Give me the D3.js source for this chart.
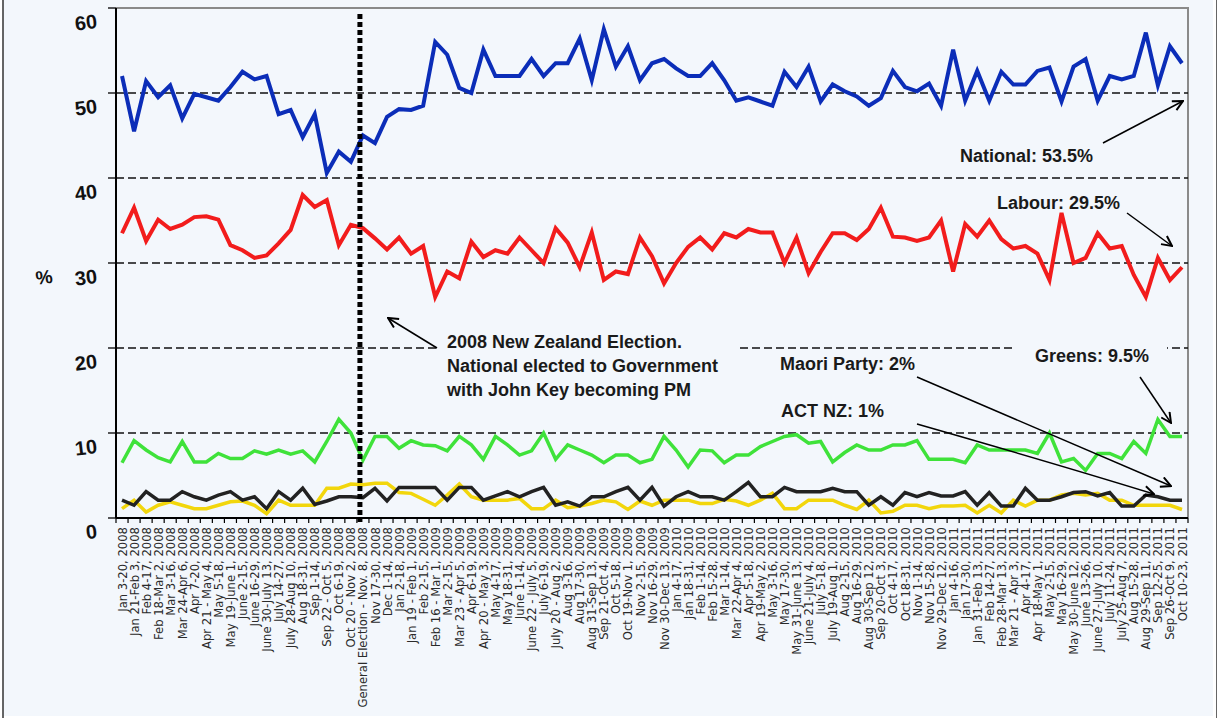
<!DOCTYPE html>
<html>
<head>
<meta charset="utf-8">
<script src="https://cdn.jsdelivr.net/npm/d3@7"></script>
<style>
  html, body { margin: 0; padding: 0; background: #ffffff; }
  svg { display: block; }
</style>
</head>
<body>
<svg id="chart" width="1218" height="720"></svg>
<script>
const categories = [
  "Jan 3-20, 2008","Jan 21-Feb 3, 2008","Feb 4-17, 2008","Feb 18-Mar 2, 2008","Mar 3-16, 2008",
  "Mar 24-Apr 6, 2008","Apr 7-20, 2008","Apr 21 - May 4, 2008","May 5-18, 2008","May 19-June 1, 2008",
  "June 2-15, 2008","June 16-29, 2008","June 30-July 13, 2008","July 14-27, 2008","July 28-Aug 10, 2008",
  "Aug 18-31, 2008","Sep 1-14, 2008","Sep 22 - Oct 5, 2008","Oct 6-19, 2008","Oct 20 - Nov 2, 2008",
  "General Election - Nov. 8, 2008","Nov 17-30, 2008","Dec 1-14, 2008","Jan 2-18, 2009","Jan 19 - Feb 1, 2009",
  "Feb 2-15, 2009","Feb 16 - Mar 1, 2009","Mar 2-15, 2009","Mar 23 - Apr 5, 2009","Apr 6-19, 2009",
  "Apr 20 - May 3, 2009","May 4-17, 2009","May 18-31, 2009","June 1-14, 2009","June 22 - July 5, 2009",
  "July 6-19, 2009","July 20 - Aug 2, 2009","Aug 3-16, 2009","Aug 17-30, 2009","Aug 31-Sep 13, 2009",
  "Sep 21-Oct 4, 2009","Oct 5-18, 2009","Oct 19-Nov 1, 2009","Nov 2-15, 2009","Nov 16-29, 2009",
  "Nov 30-Dec 13, 2009","Jan 4-17, 2010","Jan 18-31, 2010","Feb 1-14, 2010","Feb 15-28, 2010",
  "Mar 1-14, 2010","Mar 22-Apr 4, 2010","Apr 5-18, 2010","Apr 19-May 2, 2010","May 3-16, 2010",
  "May 17-30, 2010","May 31-June 13, 2010","June 21-July 4, 2010","July 5-18, 2010","July 19-Aug 1, 2010",
  "Aug 2-15, 2010","Aug 16-29, 2010","Aug 30-Sep 12, 2010","Sep 20-Oct 3, 2010","Oct 4-17, 2010",
  "Oct 18-31, 2010","Nov 1-14, 2010","Nov 15-28, 2010","Nov 29-Dec 12, 2010","Jan 4-16, 2011",
  "Jan 17-30, 2011","Jan 31-Feb 13, 2011","Feb 14-27, 2011","Feb 28-Mar 13, 2011","Mar 21 - Apr 3, 2011",
  "Apr 4-17, 2011","Apr 18-May 1, 2011","May 2-15, 2011","May 16-29, 2011","May 30-June 12, 2011",
  "June 13-26, 2011","June 27-July 10, 2011","July 11-24, 2011","July 25-Aug 7, 2011","Aug 15-28, 2011",
  "Aug 29-Sep 11, 2011","Sep 12-25, 2011","Sep 26-Oct 9, 2011","Oct 10-23, 2011"
];

const national = [
  52.0,45.5,51.4,49.5,50.9,47.0,49.9,49.5,49.1,50.7,
  52.5,51.6,52.0,47.5,48.0,44.8,47.5,40.6,43.1,41.9,
  45.0,44.1,47.2,48.1,48.0,48.5,56.0,54.5,50.6,50.0,
  55.1,52.0,52.0,52.0,54.0,52.0,53.5,53.5,56.4,51.5,
  57.5,53.1,55.5,51.5,53.5,54.0,52.9,52.0,52.0,53.5,
  51.5,49.1,49.5,49.0,48.5,52.5,50.7,53.1,49.0,51.0,
  50.2,49.6,48.5,49.4,52.6,50.7,50.2,51.1,48.5,55.1,
  49.1,52.6,49.1,52.5,51.0,51.0,52.6,53.0,49.0,53.1,
  54.0,49.1,52.0,51.6,52.0,57.1,50.9,55.5,53.5
];

const labour = [
  33.5,36.5,32.6,35.1,34.0,34.5,35.4,35.5,35.1,32.1,
  31.5,30.6,30.9,32.3,33.9,38.0,36.6,37.4,32.1,34.5,
  34.1,32.9,31.6,33.0,31.1,32.0,26.0,29.0,28.2,32.5,
  30.7,31.5,31.1,33.0,31.5,30.0,34.1,32.4,29.5,33.6,
  28.0,29.0,28.7,33.0,30.8,27.6,30.0,31.9,33.0,31.6,
  33.5,33.0,34.0,33.6,33.6,30.0,33.0,28.8,31.3,33.5,
  33.5,32.7,34.0,36.5,33.1,33.0,32.6,33.0,35.0,29.0,
  34.6,33.1,35.0,32.8,31.7,32.0,31.1,28.0,35.9,30.0,
  30.6,33.5,31.7,32.0,28.6,26.0,30.6,28.0,29.5
];

const greens = [
  6.5,9.1,8.0,7.1,6.6,9.0,6.6,6.6,7.6,7.0,
  7.0,7.9,7.5,8.0,7.5,7.9,6.6,9.0,11.6,10.0,
  6.8,9.6,9.6,8.2,9.1,8.6,8.5,7.9,9.6,8.6,
  6.9,9.6,8.6,7.4,7.9,10.0,6.9,8.6,8.0,7.4,
  6.5,7.4,7.4,6.5,6.9,9.6,8.0,6.0,8.0,7.9,
  6.5,7.4,7.4,8.4,9.0,9.6,9.8,8.8,9.0,6.6,
  7.7,8.6,8.0,8.0,8.6,8.6,9.1,6.9,6.9,6.9,
  6.5,8.6,8.0,8.0,8.0,8.0,7.6,10.0,6.6,7.0,
  5.6,7.6,7.6,7.0,9.0,7.6,11.6,9.6,9.6
];

const maori = [
  2.1,1.5,3.1,2.1,2.1,3.1,2.5,2.1,2.7,3.1,
  2.1,2.5,1.1,3.1,2.1,3.5,1.6,2.0,2.5,2.5,
  2.4,3.5,2.0,3.6,3.6,3.6,3.6,2.1,3.6,3.6,
  2.1,2.6,3.1,2.5,3.1,3.6,1.5,1.9,1.4,2.5,
  2.5,3.1,3.6,2.1,3.6,1.4,2.5,3.1,2.5,2.5,
  2.1,3.1,4.2,2.5,2.5,3.6,3.1,3.1,3.1,3.5,
  3.1,3.1,1.5,2.5,1.5,3.0,2.5,3.0,2.6,2.6,
  3.1,1.5,3.0,1.4,1.4,3.5,2.1,2.1,2.5,3.0,
  3.1,2.6,3.0,1.4,1.4,2.7,2.5,2.1,2.1
];

const act = [
  1.1,2.1,0.7,1.5,1.9,1.5,1.1,1.1,1.5,1.9,
  2.0,1.5,0.5,2.1,1.5,1.5,1.5,3.5,3.5,4.0,
  3.9,4.1,4.1,3.0,2.9,2.2,1.5,2.7,4.0,2.5,
  2.1,2.1,2.1,2.3,1.1,1.1,2.1,1.2,1.4,1.7,
  2.1,1.9,1.0,2.0,1.5,2.1,2.1,2.1,1.7,1.7,
  2.2,2.0,1.5,2.1,2.9,1.1,1.1,2.1,2.1,2.1,
  1.5,1.0,2.1,0.6,0.8,1.5,1.5,1.1,1.4,1.4,
  1.5,0.6,1.5,0.6,2.1,1.4,2.1,2.1,2.7,2.9,
  2.7,2.9,2.1,2.1,1.5,1.5,1.5,1.5,1.0
];

const yTicks = [0, 10, 20, 30, 40, 50, 60];
const electionIndex = 20;

const svg = d3.select("#chart");
const BG = "#f3f7fc";
const plot = { left: 116, right: 1188, top: 8, bottom: 518 };

// page background
svg.append("rect").attr("x", 3).attr("y", 0).attr("width", 1210).attr("height", 716).attr("fill", BG);
svg.append("line").attr("x1", 3).attr("x2", 3).attr("y1", 0).attr("y2", 718)
  .attr("stroke", "#333").attr("stroke-width", 1.5);
svg.append("line").attr("x1", 1216.5).attr("x2", 1216.5).attr("y1", 0).attr("y2", 718)
  .attr("stroke", "#666").attr("stroke-width", 1);

const x = d3.scaleBand().domain(d3.range(categories.length)).range([plot.left, plot.right]);
const xc = i => x(i) + x.bandwidth() / 2;
const y = d3.scaleLinear().domain([0, 60]).range([plot.bottom, plot.top]);

// frame (top & right, gray)
svg.append("path")
  .attr("d", `M${plot.left},${plot.top}H${plot.right}V${plot.bottom}`)
  .attr("fill", "none").attr("stroke", "#8a8a8a").attr("stroke-width", 2);

// gridlines
svg.append("g").selectAll("line").data(yTicks.filter(t => t > 0 && t < 60)).join("line")
  .attr("x1", plot.left).attr("x2", plot.right)
  .attr("y1", d => y(d)).attr("y2", d => y(d))
  .attr("stroke", "#111").attr("stroke-width", 1.3).attr("stroke-dasharray", "8,4");

// annotation backgrounds that mask gridlines
svg.append("rect").attr("x", 440).attr("y", 328).attr("width", 297).attr("height", 76).attr("fill", BG);
svg.append("rect").attr("x", 1015).attr("y", 340).attr("width", 152).attr("height", 28).attr("fill", BG);

// series lines
const line = d3.line().x((d, i) => xc(i)).y(d => y(d));
const series = [
  { values: act, color: "#f2d60c", width: 3.5 },
  { values: maori, color: "#222222", width: 3.5 },
  { values: greens, color: "#3fe23a", width: 3.5 },
  { values: labour, color: "#f21c1c", width: 4 },
  { values: national, color: "#0b2db8", width: 4 }
];
svg.append("g").selectAll("path").data(series).join("path")
  .attr("d", d => line(d.values))
  .attr("fill", "none")
  .attr("stroke", d => d.color)
  .attr("stroke-width", d => d.width)
  .attr("stroke-linejoin", "miter");

// election dotted line
svg.append("line")
  .attr("x1", xc(electionIndex) - 3).attr("x2", xc(electionIndex) - 3)
  .attr("y1", 14).attr("y2", plot.bottom + 4)
  .attr("stroke", "#000").attr("stroke-width", 5).attr("stroke-dasharray", "5,3");

// y axis
svg.append("line").attr("x1", plot.left).attr("x2", plot.left).attr("y1", plot.top).attr("y2", plot.bottom)
  .attr("stroke", "#000").attr("stroke-width", 2);
svg.append("g").selectAll("line").data(yTicks).join("line")
  .attr("x1", plot.left - 8).attr("x2", plot.left)
  .attr("y1", d => y(d)).attr("y2", d => y(d))
  .attr("stroke", "#000").attr("stroke-width", 1.3);
svg.append("g").selectAll("text").data(yTicks).join("text")
  .attr("transform", d => `translate(97,${y(d) + 13}) rotate(-7)`)
  .attr("text-anchor", "end").attr("dy", "0.35em")
  .attr("font-family", "Liberation Sans, Arial, sans-serif")
  .attr("font-weight", "bold").attr("font-size", 20).attr("fill", "#111")
  .text(d => d);
svg.append("text").attr("transform", "translate(44,277) rotate(-7)")
  .attr("text-anchor", "middle").attr("dy", "0.35em")
  .attr("font-family", "Liberation Sans, Arial, sans-serif")
  .attr("font-weight", "bold").attr("font-size", 19).attr("fill", "#111").text("%");

// x axis
svg.append("line").attr("x1", plot.left).attr("x2", plot.right).attr("y1", plot.bottom).attr("y2", plot.bottom)
  .attr("stroke", "#000").attr("stroke-width", 2);
svg.append("g").selectAll("line").data(d3.range(categories.length + 1)).join("line")
  .attr("x1", i => plot.left + i * x.step()).attr("x2", i => plot.left + i * x.step())
  .attr("y1", plot.bottom).attr("y2", plot.bottom + 5)
  .attr("stroke", "#000").attr("stroke-width", 1.2);
svg.append("g").selectAll("text").data(categories).join("text")
  .attr("transform", (d, i) => `translate(${xc(i) + 0.5},${plot.bottom + 9}) rotate(-90)`)
  .attr("text-anchor", "end").attr("dy", "0.35em")
  .attr("font-family", "DejaVu Sans, Verdana, sans-serif")
  .attr("font-size", 11.6).attr("fill", "#2a2a2a")
  .text(d => d);

// annotations
const defs = svg.append("defs");
defs.append("marker").attr("id", "arr").attr("viewBox", "0 0 12 12")
  .attr("refX", 11).attr("refY", 6).attr("markerWidth", 12).attr("markerHeight", 12)
  .attr("markerUnits", "userSpaceOnUse").attr("orient", "auto")
  .append("path").attr("d", "M1,1 L11,6 L1,11").attr("fill", "none")
  .attr("stroke", "#000").attr("stroke-width", 2);

const annFont = "Liberation Sans, Arial, sans-serif";
function label(txt, tx, ty) {
  svg.append("text").attr("x", tx).attr("y", ty)
    .attr("font-family", annFont).attr("font-weight", "bold").attr("font-size", 18)
    .attr("fill", "#1a1a1a").text(txt);
}
function arrow(x1, y1, x2, y2) {
  svg.append("line").attr("x1", x1).attr("y1", y1).attr("x2", x2).attr("y2", y2)
    .attr("stroke", "#000").attr("stroke-width", 1.5).attr("marker-end", "url(#arr)");
}

label("2008 New Zealand Election.", 447, 348);
label("National elected to Government", 447, 372);
label("with John Key becoming PM", 447, 396);
arrow(437, 348, 388, 318);

label("National: 53.5%", 960, 162);
arrow(1103, 143, 1183, 101);

label("Labour: 29.5%", 997, 209);
arrow(1127, 213, 1172, 246);

label("Greens: 9.5%", 1035, 362);
arrow(1140, 377, 1171, 423);

label("Maori Party: 2%", 780, 370);
arrow(917, 377, 1171, 486);

label("ACT NZ: 1%", 781, 417);
svg.append("path").attr("d", "M917,424 Q1060,465 1154,494")
  .attr("fill", "none").attr("stroke", "#000").attr("stroke-width", 1.5).attr("marker-end", "url(#arr)");
</script>
</body>
</html>
